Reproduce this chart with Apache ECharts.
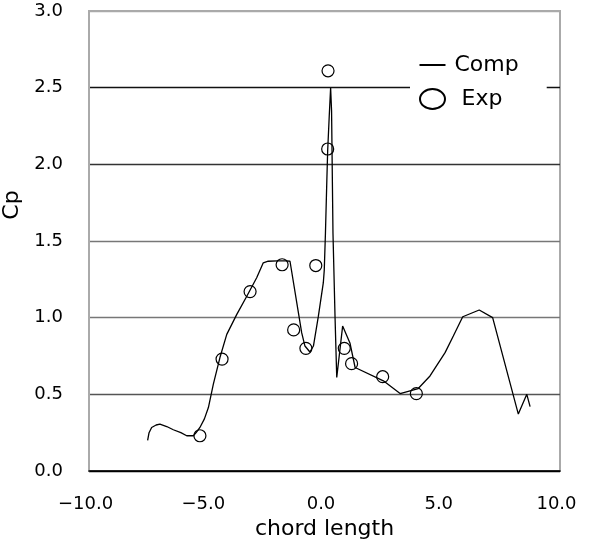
<!DOCTYPE html>
<html>
<head>
<meta charset="utf-8">
<script src="https://cdn.jsdelivr.net/npm/echarts@6/dist/echarts.min.js"></script>
<style>html,body{margin:0;padding:0;background:#fff}#c{width:597px;height:545px}</style>
</head>
<body>
<div id="c"></div>
<script>
// Computed Cp curve: [chord length, Cp]
const compX = [-7.51,-7.45,-7.34,-7.15,-6.99,-6.70,-6.42,-6.10,-5.85,-5.57,-5.45,-5.29,-5.10,-4.93,-4.72,-4.44,-4.15,-3.73,-3.30,-2.88,-2.60,-2.39,-2.00,-1.60,-1.465,-0.97,-0.83,-0.62,-0.47,-0.26,-0.05,-0.01,0.04,0.10,0.135,0.20,0.26,0.30,0.36,0.45,0.52,0.77,1.08,1.30,2.50,3.21,3.98,4.48,5.12,5.47,5.87,6.57,7.14,8.23,8.59,8.73];
const compY = [0.20,0.25,0.284,0.30,0.306,0.29,0.269,0.25,0.23,0.23,0.25,0.284,0.34,0.414,0.566,0.74,0.891,1.02,1.14,1.26,1.358,1.368,1.37,1.37,1.368,0.902,0.815,0.776,0.815,1.01,1.228,1.31,1.55,1.90,2.09,2.31,2.50,2.35,1.55,0.99,0.61,0.945,0.835,0.675,0.588,0.505,0.538,0.62,0.772,0.88,1.006,1.05,1.0,0.371,0.50,0.42];
// Experimental points
const expX = [-5.29,-4.35,-3.16,-1.80,-1.31,-0.79,-0.37,0.135,0.15,0.84,1.15,2.47,3.90];
const expY = [0.23,0.73,1.17,1.345,0.92,0.80,1.34,2.10,2.61,0.80,0.70,0.615,0.505];
// Axis ticks
const xTicks = [-10, -5, 0, 5, 10];
const yTicks = [0, 0.5, 1.0, 1.5, 2.0, 2.5, 3.0];

const FONT = 'DejaVu Sans';
const comp = compX.map((x, i) => [x, compY[i]]);
const exp = expX.map((x, i) => [x, expY[i]]);

const chart = echarts.init(document.getElementById('c'), null, {renderer: 'canvas'});
chart.setOption({
  animation: false,
  backgroundColor: '#fff',
  color: ['#000', '#000'],
  grid: {left: 89, right: 37, top: 11, bottom: 74, show: true, borderColor: '#aaa', borderWidth: 2,
         containLabel: false, outerBoundsMode: 'none'},
  legend: {
    orient: 'vertical', left: 410, top: 50, padding: [4, 28, 4, 9],
    backgroundColor: '#fff', itemWidth: 26, itemHeight: 20, itemGap: 12,
    textStyle: {fontFamily: FONT, fontSize: 22, color: '#000', lineHeight: 22},
    data: [
      {name: 'Comp', icon: 'path://M0,0M0,9H26V11H0ZM26,20',
       itemStyle: {color: '#000', borderWidth: 0},
       textStyle: {padding: [0, 0, 0, 4]}},
      {name: 'Exp', icon: 'path://M0,10A12.5,10,0,1,1,25,10A12.5,10,0,1,1,0,10Z',
       itemStyle: {color: 'rgba(0,0,0,0)', borderColor: '#000', borderWidth: 2},
       textStyle: {padding: [0, 0, 0, 11]}}
    ]
  },
  xAxis: {
    type: 'value', min: xTicks[0], max: xTicks[xTicks.length - 1], interval: 5,
    name: 'chord length', nameLocation: 'middle', nameGap: 46,
    nameTextStyle: {fontFamily: FONT, fontSize: 22, color: '#000'},
    axisLine: {show: true, onZero: false, lineStyle: {color: '#000', width: 1.5}},
    axisTick: {show: false},
    splitLine: {show: false},
    axisLabel: {
      fontFamily: FONT, fontSize: 18, color: '#000', margin: 24, padding: [0, 7, 0, 0],
      formatter: v => (v < 0 ? '\u2212' : '') + Math.abs(v).toFixed(1)
    }
  },
  yAxis: {
    type: 'value', min: yTicks[0], max: yTicks[yTicks.length - 1], interval: 0.5,
    name: 'Cp', nameLocation: 'middle', nameGap: 56, nameRotate: 90,
    nameTextStyle: {fontFamily: FONT, fontSize: 22, color: '#000', padding: [0, 0, 0, 72]},
    axisLine: {show: true, onZero: false, lineStyle: {color: '#aaa', width: 2}},
    axisTick: {show: false},
    splitLine: {show: true, lineStyle: {color: ['#000', '#555', '#777', '#777', '#333', '#111', '#aaa'], width: 1.3}},
    axisLabel: {
      fontFamily: FONT, fontSize: 18, color: '#000', margin: 26, padding: [7, 0, 0, 0],
      formatter: v => v.toFixed(1)
    }
  },
  series: [
    {
      name: 'Comp', type: 'line', data: comp, symbol: 'none', showSymbol: false,
      itemStyle: {color: '#000'}, lineStyle: {color: '#000', width: 1.3}, z: 2
    },
    {
      name: 'Exp', type: 'scatter', data: exp, symbol: 'circle', symbolSize: 12,
      itemStyle: {color: 'rgba(0,0,0,0)', borderColor: '#000', borderWidth: 1.2, opacity: 1}, z: 3
    }
  ]
});
</script>
</body>
</html>
